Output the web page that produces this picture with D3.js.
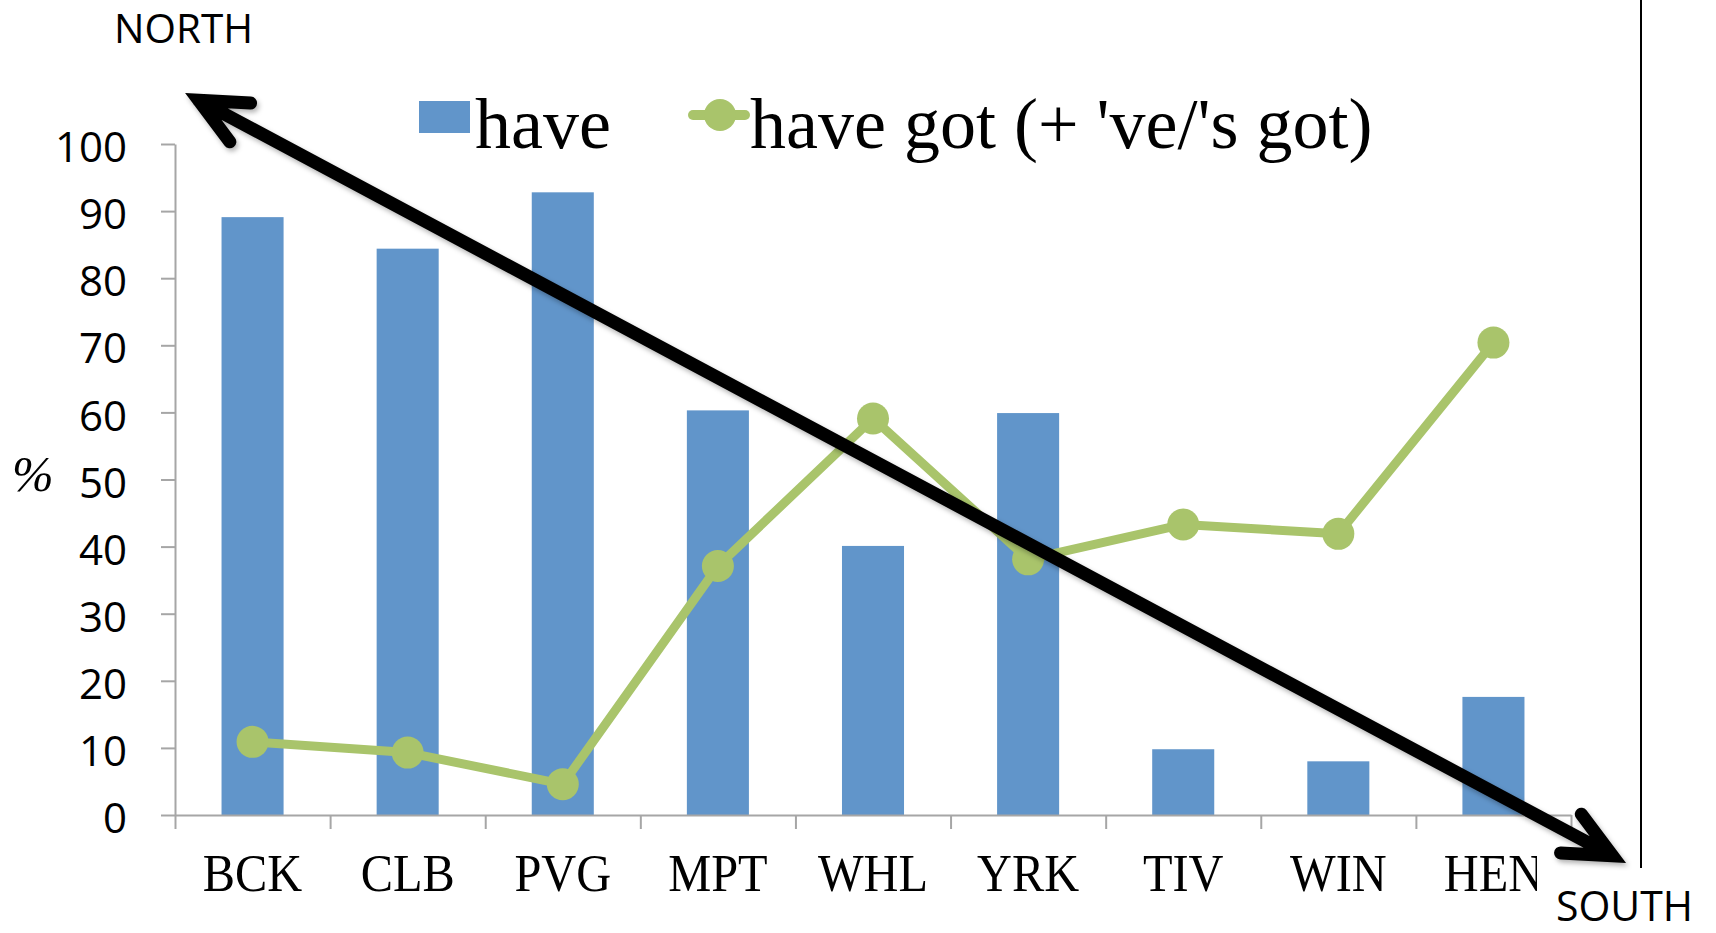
<!DOCTYPE html>
<html><head><meta charset="utf-8">
<script src="https://cdn.jsdelivr.net/npm/d3@7"></script>
<style>html,body{margin:0;padding:0;background:#fff;} svg{display:block;}</style>
</head><body>
<svg id="chart" width="1716" height="933"></svg>
<script>
// ---- data ----
const categories = ["BCK", "CLB", "PVG", "MPT", "WHL", "YRK", "TIV", "WIN", "HEN"];
const haveValues = [89.1, 84.4, 92.8, 60.3, 40.1, 59.9, 9.8, 8.0, 17.6];
const haveGotValues = [10.9, 9.3, 4.6, 37.1, 59.1, 38.1, 43.3, 41.9, 70.4];
const yTickValues = [0, 10, 20, 30, 40, 50, 60, 70, 80, 90, 100];
const seriesNames = ["have", "have got (+ 've/'s got)"];
const yAxisTitle = "%";
const directionLabels = ["NORTH", "SOUTH"];
// arrow annotation in data units: [category-position (0..9), percent]
const arrowNorthTip = [0.065, 107.6];
const arrowSouthTip = [9.355, -7.15];

// ---- layout ----
const svg = d3.select("#chart");
const blue = "#6195CA", green = "#A9C46B", axisGrey = "#A6A6A6";
const plotLeft = 175, plotRight = 1571, plotTop = 144, plotBottom = 815;

const x = d3.scaleBand().domain(categories).range([plotLeft, plotRight]).padding(0);
const xPos = d3.scaleLinear().domain([0, categories.length]).range([plotLeft, plotRight]);
const y = d3.scaleLinear().domain([0, 100]).range([plotBottom, plotTop]);

const defs = svg.append("defs");
defs.append("clipPath").attr("id", "labelClip")
  .append("rect").attr("x", 0).attr("y", 0).attr("width", 1537).attr("height", 933);
const shadow = defs.append("filter").attr("id", "shadow")
  .attr("x", "-10%").attr("y", "-10%").attr("width", "120%").attr("height", "120%");
shadow.append("feDropShadow").attr("dx", 2).attr("dy", 3).attr("stdDeviation", 2.5)
  .attr("flood-color", "#000").attr("flood-opacity", 0.3);

// bars
const barW = x.bandwidth() * 0.4;
svg.append("g").selectAll("rect").data(categories).join("rect")
  .attr("x", (d) => x(d) + (x.bandwidth() - barW) / 2)
  .attr("y", (d, i) => y(haveValues[i]))
  .attr("width", barW)
  .attr("height", (d, i) => y(0) - y(haveValues[i]))
  .attr("fill", blue);

// y axis
const yAxis = svg.append("g").attr("transform", `translate(${plotLeft},0)`)
  .call(d3.axisLeft(y).tickValues(yTickValues).tickSize(14).tickSizeOuter(0).tickPadding(34).tickFormat(d3.format("d")));
yAxis.select(".domain").attr("stroke", axisGrey).attr("stroke-width", 2);
yAxis.selectAll(".tick line").attr("stroke", axisGrey).attr("stroke-width", 2);
yAxis.selectAll(".tick text").attr("fill", "#000").attr("font-family", "'Open Sans', sans-serif")
  .attr("font-size", 42).attr("dy", "0.42em");

// x axis (ticks at band edges)
const xAxis = svg.append("g").attr("transform", `translate(0,${plotBottom})`)
  .call(d3.axisBottom(xPos).tickValues(d3.range(categories.length + 1)).tickSize(14).tickSizeOuter(0).tickFormat(""));
xAxis.select(".domain").attr("stroke", axisGrey).attr("stroke-width", 2);
xAxis.selectAll(".tick line").attr("stroke", axisGrey).attr("stroke-width", 2);

// category labels
svg.append("g").attr("clip-path", "url(#labelClip)")
  .selectAll("text").data(categories).join("text")
  .attr("transform", (d) => `translate(${x(d) + x.bandwidth() / 2},891) scale(0.93,1)`)
  .attr("text-anchor", "middle")
  .attr("font-family", "'Liberation Serif', 'Times New Roman', serif")
  .attr("font-size", 52)
  .attr("fill", "#000")
  .text((d) => d);

// line series
const line = d3.line().x((d, i) => x(categories[i]) + x.bandwidth() / 2).y((d) => y(d));
svg.append("path").datum(haveGotValues)
  .attr("d", line).attr("fill", "none").attr("stroke", green).attr("stroke-width", 9)
  .attr("stroke-linejoin", "round");
svg.append("g").selectAll("circle").data(haveGotValues).join("circle")
  .attr("cx", (d, i) => x(categories[i]) + x.bandwidth() / 2)
  .attr("cy", (d) => y(d))
  .attr("r", 16)
  .attr("fill", green);

// y axis title
svg.append("text").attr("x", 12).attr("y", 491)
  .attr("font-family", "'Liberation Serif', 'Times New Roman', serif")
  .attr("font-style", "italic").attr("font-size", 50).attr("fill", "#000")
  .text(yAxisTitle);

// legend
const lg = svg.append("g");
lg.append("rect").attr("x", 419).attr("y", 101).attr("width", 51).attr("height", 32).attr("fill", blue);
lg.append("text").attr("x", 475).attr("y", 148)
  .attr("font-family", "'Liberation Serif', 'Times New Roman', serif").attr("font-size", 72).attr("fill", "#000")
  .text(seriesNames[0]);
lg.append("line").attr("x1", 693).attr("x2", 745).attr("y1", 115).attr("y2", 115)
  .attr("stroke", green).attr("stroke-width", 10).attr("stroke-linecap", "round");
lg.append("circle").attr("cx", 720).attr("cy", 115).attr("r", 16).attr("fill", green);
lg.append("text").attr("x", 750).attr("y", 148)
  .attr("font-family", "'Liberation Serif', 'Times New Roman', serif").attr("font-size", 72).attr("fill", "#000")
  .text(seriesNames[1]);

// direction labels
svg.append("text").attr("x", 114).attr("y", 43)
  .attr("font-family", "'Open Sans', sans-serif").attr("font-size", 40).attr("fill", "#000")
  .attr("textLength", 139).attr("lengthAdjust", "spacingAndGlyphs")
  .text(directionLabels[0]);
svg.append("text").attr("x", 1556).attr("y", 921)
  .attr("font-family", "'Open Sans', sans-serif").attr("font-size", 42).attr("fill", "#000")
  .attr("textLength", 137).attr("lengthAdjust", "spacingAndGlyphs")
  .text(directionLabels[1]);

// right border line
svg.append("line").attr("x1", 1641).attr("x2", 1641).attr("y1", 0).attr("y2", 868)
  .attr("stroke", "#000").attr("stroke-width", 2);

// arrow
const sw = 13, armLen = 52, half = 25 * Math.PI / 180;
const pN = [xPos(arrowNorthTip[0]), y(arrowNorthTip[1])];
const pS = [xPos(arrowSouthTip[0]), y(arrowSouthTip[1])];
const ang = Math.atan2(pS[1] - pN[1], pS[0] - pN[0]);
const miter = (sw / 2) / Math.sin(half);
const vN = [pN[0] + Math.cos(ang) * miter, pN[1] + Math.sin(ang) * miter];
const vS = [pS[0] - Math.cos(ang) * miter, pS[1] - Math.sin(ang) * miter];
function head(v, dirAng) {
  const a1 = dirAng + half, a2 = dirAng - half;
  return `M${v[0] + Math.cos(a1) * armLen},${v[1] + Math.sin(a1) * armLen}L${v[0]},${v[1]}L${v[0] + Math.cos(a2) * armLen},${v[1] + Math.sin(a2) * armLen}`;
}
const ag = svg.append("g").attr("filter", "url(#shadow)");
ag.append("path")
  .attr("d", `M${vN[0]},${vN[1]}L${vS[0]},${vS[1]}` + head(vN, ang) + head(vS, ang + Math.PI))
  .attr("fill", "none").attr("stroke", "#000").attr("stroke-width", sw)
  .attr("stroke-linecap", "round").attr("stroke-linejoin", "miter").attr("stroke-miterlimit", 10);
</script>
</body></html>
